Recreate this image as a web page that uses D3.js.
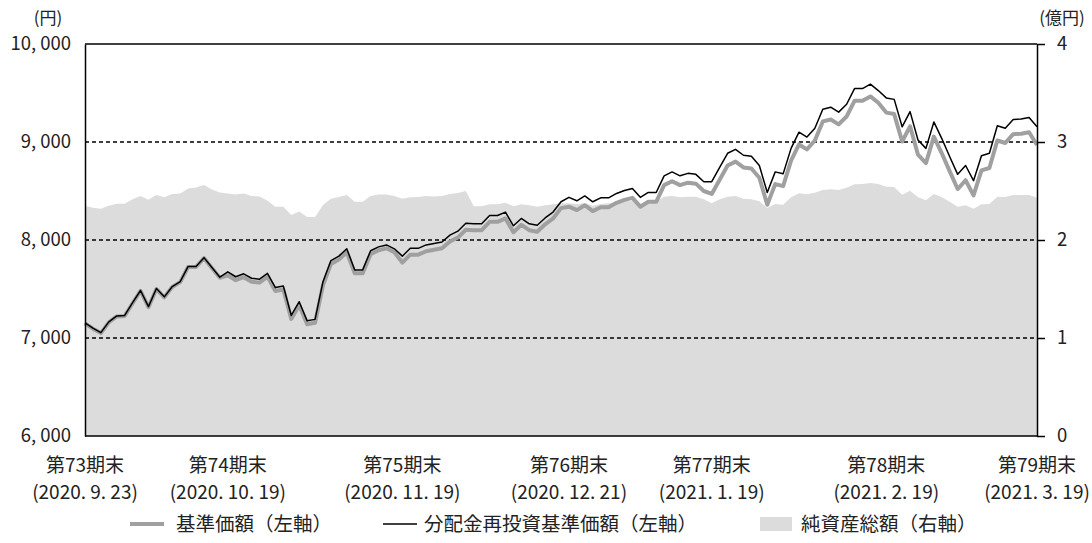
<!DOCTYPE html>
<html>
<head>
<meta charset="utf-8">
<script src="https://cdn.jsdelivr.net/npm/d3@7"></script>
<style>
  body { margin: 0; background: #fff; }
  text { font-family: "Noto Sans CJK JP", "Noto Sans", sans-serif; fill: #222; }
</style>
</head>
<body>
<div class="chart"></div>
<script>

// 基準価額 (円) - one per business day, 第73期末 -> 第79期末
var navValues = [
  7150, 7095, 7050, 7160, 7220, 7225, 7355, 7480, 7315, 7500,
  7415, 7520, 7570, 7725, 7725, 7815, 7715, 7615, 7640, 7590,
  7620, 7575, 7565, 7625, 7480, 7495, 7195, 7335, 7140, 7155,
  7540, 7755, 7800, 7875, 7660, 7660, 7855, 7895, 7915, 7875,
  7770, 7850, 7850, 7885, 7900, 7915, 7985, 8025, 8105, 8100,
  8100, 8185, 8185, 8220, 8080, 8155, 8100, 8085, 8160, 8220,
  8325, 8340, 8305, 8355, 8295, 8335, 8335, 8380, 8410, 8430,
  8340, 8390, 8390, 8560, 8600, 8560, 8585, 8575, 8500, 8470,
  8615, 8760, 8800, 8740, 8730, 8635, 8360, 8570, 8550, 8810,
  8975, 8925, 9015, 9210, 9230, 9180, 9260, 9420, 9420, 9465,
  9400, 9300, 9285, 9005, 9160, 8870, 8785, 9055, 8885, 8700,
  8520, 8610, 8455, 8710, 8735, 9015, 8990, 9080, 9085, 9100,
  8970
];

// 分配金再投資基準価額 (円)
var reinvestValues = [
  7155, 7100, 7055, 7165, 7225, 7230, 7360, 7485, 7320, 7505,
  7420, 7525, 7575, 7730, 7730, 7820, 7720, 7620, 7675, 7625,
  7655, 7610, 7600, 7660, 7515, 7530, 7230, 7370, 7175, 7190,
  7575, 7790, 7835, 7910, 7695, 7695, 7890, 7930, 7950, 7910,
  7835, 7915, 7915, 7950, 7965, 7980, 8050, 8090, 8170, 8165,
  8165, 8250, 8250, 8285, 8145, 8220, 8165, 8150, 8225, 8285,
  8390, 8435, 8400, 8450, 8390, 8430, 8430, 8475, 8505, 8525,
  8435, 8485, 8485, 8655, 8695, 8655, 8680, 8670, 8595, 8595,
  8740, 8885, 8925, 8865, 8855, 8760, 8485, 8695, 8675, 8935,
  9100, 9050, 9140, 9335, 9355, 9305, 9385, 9545, 9545, 9590,
  9525, 9450, 9435, 9155, 9310, 9020, 8935, 9205, 9035, 8850,
  8670, 8760, 8605, 8860, 8885, 9165, 9140, 9230, 9235, 9250,
  9155
];

// 純資産総額 (億円)
var netAssets = [
  2.35, 2.33, 2.32, 2.35, 2.37, 2.37, 2.415, 2.45, 2.41, 2.46,
  2.435, 2.47, 2.475, 2.525, 2.535, 2.56, 2.515, 2.485, 2.475, 2.465,
  2.475, 2.45, 2.445, 2.40, 2.34, 2.34, 2.255, 2.29, 2.235, 2.235,
  2.357, 2.42, 2.44, 2.46, 2.39, 2.39, 2.45, 2.465, 2.465, 2.45,
  2.42, 2.435, 2.44, 2.45, 2.445, 2.45, 2.47, 2.48, 2.50, 2.345,
  2.345, 2.365, 2.365, 2.38, 2.345, 2.365, 2.355, 2.34, 2.355, 2.365,
  2.375, 2.375, 2.367, 2.374, 2.35, 2.367, 2.374, 2.381, 2.395, 2.40,
  2.367, 2.388, 2.395, 2.442, 2.449, 2.435, 2.442, 2.442, 2.415, 2.374,
  2.415, 2.442, 2.449, 2.422, 2.415, 2.395, 2.327, 2.367, 2.36, 2.435,
  2.476, 2.466, 2.483, 2.51, 2.517, 2.51, 2.534, 2.568, 2.571, 2.582,
  2.571, 2.544, 2.541, 2.463, 2.503, 2.435, 2.405, 2.469, 2.435, 2.391,
  2.34, 2.354, 2.32, 2.364, 2.367, 2.442, 2.438, 2.459, 2.459, 2.459,
  2.432
];

// x tick labels (period ends)
var tickIndex = [0, 18, 40, 61, 79, 101, 120];
var tickPeriod = ["第73期末", "第74期末", "第75期末", "第76期末", "第77期末", "第78期末", "第79期末"];
var tickDate = ["(2020. 9. 23)", "(2020. 10. 19)", "(2020. 11. 19)", "(2020. 12. 21)",
  "(2021. 1. 19)", "(2021. 2. 19)", "(2021. 3. 19)"];

var leftTicks = [6000, 7000, 8000, 9000, 10000];
var rightTicks = [0, 1, 2, 3, 4];
var gridTicks = [7000, 8000, 9000];

var svgWidth = 1092;
var svgHeight = 543;

var margin = { top: 44, right: 55, bottom: 107, left: 85 };

var width = svgWidth - margin.left - margin.right;
var height = svgHeight - margin.top - margin.bottom;

var svg = d3.select(".chart")
  .append("svg")
  .attr("width", svgWidth)
  .attr("height", svgHeight);

var chartGroup = svg.append("g")
  .attr("transform", `translate(${margin.left}, ${margin.top})`);

// scales
var xScale = d3.scaleLinear()
  .domain([0, navValues.length - 1])
  .range([0, width]);

var yLeft = d3.scaleLinear()
  .domain([6000, 10000])
  .range([height, 0]);

var yRight = d3.scaleLinear()
  .domain([0, 4])
  .range([height, 0]);

// net assets area (right axis)
var area = d3.area()
  .x((d, i) => xScale(i))
  .y0(height)
  .y1(d => yRight(d));

chartGroup.append("path")
  .datum(netAssets)
  .attr("d", area)
  .attr("fill", "#dcdcdc");

// dashed grid lines
chartGroup.selectAll(".grid")
  .data(gridTicks)
  .enter()
  .append("line")
  .attr("class", "grid")
  .attr("x1", 0)
  .attr("x2", width)
  .attr("y1", d => yLeft(d))
  .attr("y2", d => yLeft(d))
  .attr("stroke", "#000")
  .attr("stroke-width", 1.3)
  .attr("stroke-dasharray", "4,3");

// lines
var line = d3.line()
  .x((d, i) => xScale(i))
  .y(d => yLeft(d));

chartGroup.append("path")
  .datum(navValues)
  .attr("d", line)
  .attr("fill", "none")
  .attr("stroke", "#a0a0a0")
  .attr("stroke-width", 4)
  .attr("stroke-linejoin", "round");

chartGroup.append("path")
  .datum(reinvestValues)
  .attr("d", line)
  .attr("fill", "none")
  .attr("stroke", "#000")
  .attr("stroke-width", 1.5)
  .attr("stroke-linejoin", "round");

// top frame line
chartGroup.append("line")
  .attr("x1", 0)
  .attr("x2", width)
  .attr("y1", 0)
  .attr("y2", 0)
  .attr("stroke", "#000")
  .attr("stroke-width", 1.5);

// left axis
var fmt = d => d3.format(",")(d).replace(",", ", ");
var leftAxis = d3.axisLeft(yLeft)
  .tickValues(leftTicks)
  .tickSize(0)
  .tickPadding(14)
  .tickFormat(fmt);

var leftG = chartGroup.append("g").call(leftAxis);
leftG.select(".domain").attr("stroke", "#000").attr("stroke-width", 1.5);
leftG.selectAll("text")
  .style("font-size", "18.5px")
  .style("font-family", "'Noto Sans CJK JP', sans-serif")
  .attr("fill", "#222");

// right axis
var rightAxis = d3.axisRight(yRight)
  .tickValues(rightTicks)
  .tickSize(8)
  .tickSizeOuter(0)
  .tickPadding(12)
  .tickFormat(d3.format("d"));

var rightG = chartGroup.append("g")
  .attr("transform", `translate(${width}, 0)`)
  .call(rightAxis);
rightG.select(".domain").attr("stroke", "#000").attr("stroke-width", 1.5);
rightG.selectAll("line").attr("stroke", "#000").attr("stroke-width", 1.5);
rightG.selectAll("text")
  .style("font-size", "18.5px")
  .style("font-family", "'Noto Sans CJK JP', sans-serif")
  .attr("fill", "#222");

// bottom axis line
chartGroup.append("line")
  .attr("x1", 0)
  .attr("x2", width)
  .attr("y1", height)
  .attr("y2", height)
  .attr("stroke", "#000")
  .attr("stroke-width", 1.5);

// x labels, two lines
var xLabels = chartGroup.selectAll(".xlab")
  .data(tickIndex)
  .enter()
  .append("g")
  .attr("class", "xlab")
  .attr("transform", d => `translate(${xScale(d)}, ${height})`);

xLabels.append("text")
  .attr("y", 36)
  .attr("text-anchor", "middle")
  .style("font-size", "19px")
  .text((d, i) => tickPeriod[i]);

xLabels.append("text")
  .attr("y", 63)
  .attr("text-anchor", "middle")
  .style("font-size", "19px")
  .text((d, i) => tickDate[i]);

// unit labels
svg.append("text")
  .attr("x", 48)
  .attr("y", 24)
  .attr("text-anchor", "middle")
  .style("font-size", "17px")
  .text("(円)");

svg.append("text")
  .attr("x", 1062)
  .attr("y", 24)
  .attr("text-anchor", "middle")
  .style("font-size", "17px")
  .text("(億円)");

// legend
var legendY = 524;
var legend = svg.append("g");

legend.append("line")
  .attr("x1", 130).attr("x2", 164)
  .attr("y1", legendY).attr("y2", legendY)
  .attr("stroke", "#a0a0a0")
  .attr("stroke-width", 4);

legend.append("text")
  .attr("x", 176).attr("y", legendY + 7)
  .style("font-size", "19.5px")
  .text("基準価額（左軸）");

legend.append("line")
  .attr("x1", 383).attr("x2", 417)
  .attr("y1", legendY).attr("y2", legendY)
  .attr("stroke", "#000")
  .attr("stroke-width", 1.5);

legend.append("text")
  .attr("x", 424).attr("y", legendY + 7)
  .style("font-size", "19.5px")
  .text("分配金再投資基準価額（左軸）");

legend.append("rect")
  .attr("x", 760).attr("y", legendY - 7)
  .attr("width", 32).attr("height", 14)
  .attr("fill", "#dcdcdc");

legend.append("text")
  .attr("x", 801).attr("y", legendY + 7)
  .style("font-size", "19.5px")
  .text("純資産総額（右軸）");

</script>
</body>
</html>
